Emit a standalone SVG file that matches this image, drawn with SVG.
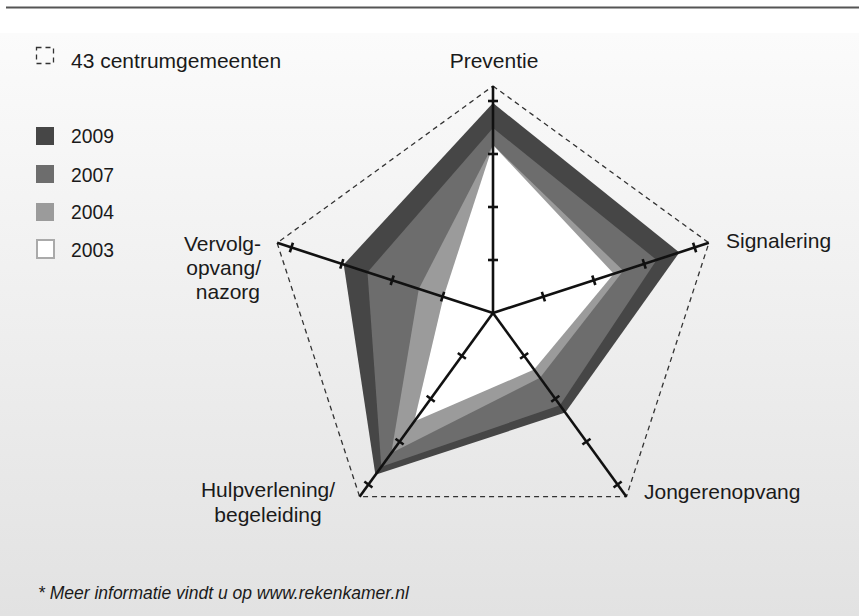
<svg xmlns="http://www.w3.org/2000/svg" xmlns:xlink="http://www.w3.org/1999/xlink" width="859" height="616" viewBox="0 0 859 616">
<defs>
<linearGradient id="bg" x1="0" y1="33" x2="0" y2="616" gradientUnits="userSpaceOnUse">
<stop offset="0" stop-color="#fbfbfb"/>
<stop offset="1" stop-color="#e2e2e2"/>
</linearGradient>
<g id="axis">
<line x1="493" y1="313" x2="493" y2="86"/>
<line x1="488" y1="260" x2="498" y2="260"/>
<line x1="488" y1="207" x2="498" y2="207"/>
<line x1="488" y1="154" x2="498" y2="154"/>
<line x1="488" y1="101" x2="498" y2="101"/>
</g>
</defs>
<style>
text{font-family:"Liberation Sans",Arial,sans-serif;font-size:21px;fill:#1a1a1a}
.ax{stroke:#111;stroke-width:2.6;fill:none;stroke-linecap:butt}
.y2009{fill:#464646}
.y2007{fill:#6d6d6d}
.y2004{fill:#9b9b9b}
.y2003{fill:#ffffff}
.frame{fill:none;stroke:#333;stroke-width:1.3;stroke-dasharray:5 4}
</style>
<rect x="0" y="0" width="859" height="616" fill="#ffffff"/>
<rect x="0" y="33" width="859" height="583" fill="url(#bg)"/>
<line x1="6" y1="7.5" x2="859" y2="7.5" stroke="#555" stroke-width="2"/>

<g id="legend">
<rect x="36.5" y="47.5" width="17" height="16" class="frame" stroke-dasharray="4 3"/>
<text x="71" y="68">43 centrumgemeenten</text>
<rect x="36" y="127" width="18" height="18" class="y2009"/>
<text x="71" y="143" textLength="43" lengthAdjust="spacingAndGlyphs">2009</text>
<rect x="36" y="165" width="18" height="18" class="y2007"/>
<text x="71" y="182" textLength="43" lengthAdjust="spacingAndGlyphs">2007</text>
<rect x="36" y="203" width="18" height="18" class="y2004"/>
<text x="71" y="219" textLength="43" lengthAdjust="spacingAndGlyphs">2004</text>
<rect x="37" y="240" width="17" height="18" class="y2003" stroke="#aaa" stroke-width="2"/>
<text x="71" y="257" textLength="43" lengthAdjust="spacingAndGlyphs">2003</text>
</g>

<g id="series">
<polygon id="s2009" class="y2009" points="493,103 679.4,252.4 565.3,412.5 375.4,474.8 343.7,264.5"/>
<polygon id="s2007" class="y2007" points="493,128 656.6,259.9 560,405.2 381.3,466.7 367.5,272.2"/>
<polygon id="s2004" class="y2004" points="493,145 623.3,270.7 540,377.7 391.3,453 418.8,288.9"/>
<polygon id="s2003" class="y2003" points="493,145 613.8,273.8 534.1,369.6 414.2,421.4 443.5,296.9"/>
</g>

<g id="frame">
<polygon class="frame" points="493,86 708.9,242.9 626.4,496.6 359.6,496.6 277.1,242.9"/>
</g>

<g id="axes" class="ax">
<use xlink:href="#axis"/>
<use xlink:href="#axis" transform="rotate(72 493 313)"/>
<use xlink:href="#axis" transform="rotate(144 493 313)"/>
<use xlink:href="#axis" transform="rotate(216 493 313)"/>
<use xlink:href="#axis" transform="rotate(288 493 313)"/>
</g>

<g id="labels">
<text x="494" y="68" text-anchor="middle">Preventie</text>
<text x="726" y="248">Signalering</text>
<text x="644" y="499">Jongerenopvang</text>
<text x="268" y="497" text-anchor="middle">Hulpverlening/</text>
<text x="268" y="522" text-anchor="middle">begeleiding</text>
<text x="261" y="251" text-anchor="end">Vervolg-</text>
<text x="261" y="275" text-anchor="end">opvang/</text>
<text x="260" y="299" text-anchor="end">nazorg</text>
</g>

<text x="38" y="599" font-style="italic" style="font-size:17.5px">* Meer informatie vindt u op www.rekenkamer.nl</text>
</svg>
